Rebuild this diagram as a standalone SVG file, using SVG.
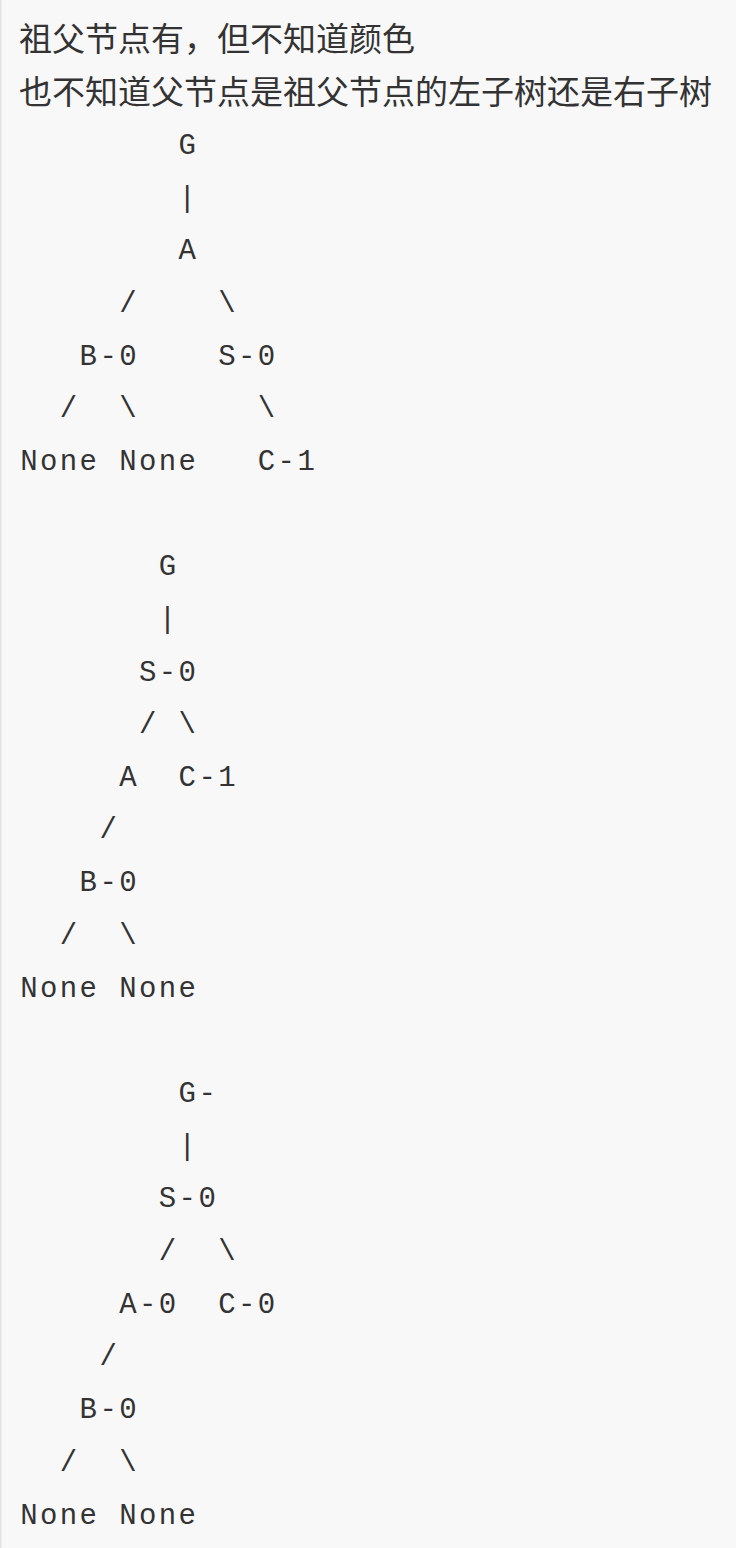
<svg xmlns="http://www.w3.org/2000/svg" width="736" height="1548" viewBox="0 0 736 1548">
<style>
.cn{font-family:"Noto Sans CJK SC","Liberation Sans",sans-serif;font-size:33px;fill:#333}
.m{font-family:"Liberation Mono","DejaVu Sans Mono",monospace;font-size:29px;letter-spacing:2.4px;fill:#333;white-space:pre}
</style>
<rect x="0" y="0" width="736" height="1548" fill="#f8f8f8"/>
<rect x="0" y="0" width="1.5" height="1548" fill="#e3e3e3"/>
<g id="header">
<text class="cn" x="19" y="51">祖父节点有，但不知道颜色</text>
<text class="cn" x="19" y="104">也不知道父节点是祖父节点的左子树还是右子树</text>
</g>
<g id="tree1">
<text class="m" x="20.2" y="154" xml:space="preserve">        G</text>
<text class="m" x="20.2" y="207" xml:space="preserve">        |</text>
<text class="m" x="20.2" y="259" xml:space="preserve">        A</text>
<text class="m" x="20.2" y="312" xml:space="preserve">     /    \</text>
<text class="m" x="20.2" y="365" xml:space="preserve">   B-0    S-0</text>
<text class="m" x="20.2" y="417" xml:space="preserve">  /  \      \</text>
<text class="m" x="20.2" y="470" xml:space="preserve">None None   C-1</text>
</g>
<g id="tree2">
<text class="m" x="20.2" y="575" xml:space="preserve">       G</text>
<text class="m" x="20.2" y="628" xml:space="preserve">       |</text>
<text class="m" x="20.2" y="681" xml:space="preserve">      S-0</text>
<text class="m" x="20.2" y="733" xml:space="preserve">      / \</text>
<text class="m" x="20.2" y="786" xml:space="preserve">     A  C-1</text>
<text class="m" x="20.2" y="838" xml:space="preserve">    /</text>
<text class="m" x="20.2" y="891" xml:space="preserve">   B-0</text>
<text class="m" x="20.2" y="944" xml:space="preserve">  /  \</text>
<text class="m" x="20.2" y="997" xml:space="preserve">None None</text>
</g>
<g id="tree3">
<text class="m" x="20.2" y="1102" xml:space="preserve">        G-</text>
<text class="m" x="20.2" y="1155" xml:space="preserve">        |</text>
<text class="m" x="20.2" y="1207" xml:space="preserve">       S-0</text>
<text class="m" x="20.2" y="1260" xml:space="preserve">       /  \</text>
<text class="m" x="20.2" y="1313" xml:space="preserve">     A-0  C-0</text>
<text class="m" x="20.2" y="1365" xml:space="preserve">    /</text>
<text class="m" x="20.2" y="1418" xml:space="preserve">   B-0</text>
<text class="m" x="20.2" y="1471" xml:space="preserve">  /  \</text>
<text class="m" x="20.2" y="1524" xml:space="preserve">None None</text>
</g>
</svg>
